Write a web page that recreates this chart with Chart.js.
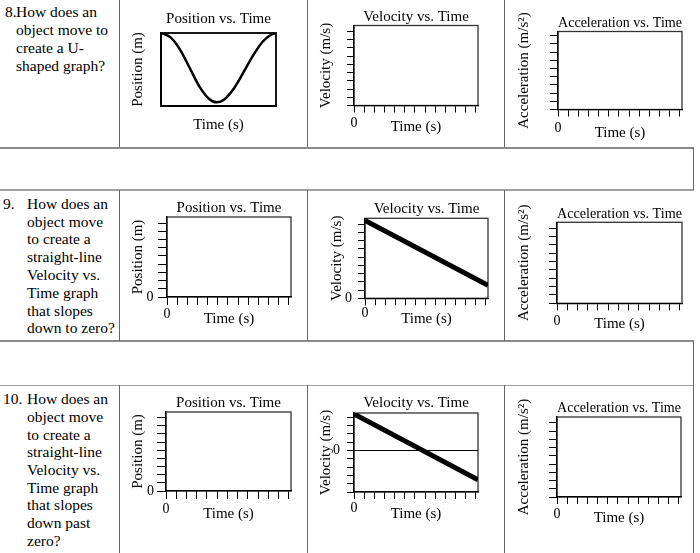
<!DOCTYPE html>
<html><head><meta charset="utf-8">
<script src="https://cdn.jsdelivr.net/npm/chart.js@4.4.1/dist/chart.umd.min.js"></script>
<style>
html,body{margin:0;padding:0;background:#fff;}
#page{position:relative;width:700px;height:553px;overflow:hidden;background:#fff;font-family:'Liberation Serif','Times New Roman',serif;color:#000;}
.ln{position:absolute;}
.q{position:absolute;font-size:15.5px;white-space:nowrap;}
canvas{position:absolute;}
</style></head><body><div id="page"></div>
<script>
// ---------- data ----------
const chartTitles = ['Position vs. Time', 'Velocity vs. Time', 'Acceleration vs. Time'];
const yAxisTitles = ['Position (m)', 'Velocity (m/s)', 'Acceleration (m/s²)'];
const xAxisTitle = 'Time (s)';
const zeroLabel = '0';
// U-shaped position curve (question 8)
const uPosTime  = [0, 1, 2, 3, 4, 5, 5.8, 6.6, 7.6, 8.6, 9.6, 10.6, 11.4, 12];
const uPosValue = [10, 9.4, 7.7, 5.2, 2.7, 1.0, 0.5, 0.9, 2.4, 4.6, 6.9, 8.8, 9.7, 10];
// straight-line velocity sloping down toward zero (question 9)
const slopeZeroTime = [0, 12.2];
const slopeZeroVel  = [9.45, 1.58];
// straight-line velocity sloping down past zero (question 10)
const slopePastTime = [0, 12.2];
const slopePastVel  = [4.38, -3.54];
// questions
const questionNumbers = ['8.', '9.', '10.'];
const questionLines = [
  ['How does an', 'object move to', 'create a U-', 'shaped graph?'],
  ['How does an', 'object move', 'to create a', 'straight-line', 'Velocity vs.', 'Time graph', 'that slopes', 'down to zero?'],
  ['How does an', 'object move', 'to create a', 'straight-line', 'Velocity vs.', 'Time graph', 'that slopes', 'down past', 'zero?']
];

// ---------- layout ----------
const page = document.getElementById('page');
function line(x, y, w, h, c) {
  const d = document.createElement('div');
  d.className = 'ln';
  d.style.cssText = `left:${x}px;top:${y}px;width:${w}px;height:${h}px;background:${c};`;
  page.appendChild(d);
}
// horizontal rules
line(0, 146.5, 694, 2, '#8a8a8a');
line(0, 189, 694, 1.5, '#a0a0a0');
line(0, 340, 694, 2, '#8a8a8a');
line(0, 384.5, 694, 1.5, '#a0a0a0');
// vertical rules (inside question rows)
[[0, 147], [190, 341], [385, 553]].forEach(([y0, y1]) => {
  [118.5, 306.5, 503.5].forEach(x => line(x, y0, 1.5, y1 - y0, '#666'));
});
line(692.5, 147, 1.5, 43, '#666');
line(692.5, 341, 1.5, 212, '#666');

// question text
const qLayout = [
  {numX: 5, textX: 16, top: 3.1, lh: 18},
  {numX: 3, textX: 27, top: 194.9, lh: 17.8},
  {numX: 3, textX: 27, top: 390.2, lh: 17.7}
];
qLayout.forEach((q, i) => {
  const n = document.createElement('div');
  n.className = 'q';
  n.style.cssText = `left:${q.numX}px;top:${q.top}px;line-height:${q.lh}px;`;
  n.textContent = questionNumbers[i];
  page.appendChild(n);
  const t = document.createElement('div');
  t.className = 'q';
  t.style.cssText = `left:${q.textX}px;top:${q.top}px;line-height:${q.lh}px;`;
  t.innerHTML = questionLines[i].join('<br>');
  page.appendChild(t);
});

// ---------- charts ----------
Chart.defaults.font.family = "'Liberation Serif', 'Times New Roman', serif";
Chart.defaults.color = '#000';

const framePlugin = {
  id: 'frame',
  beforeDraw(chart, args, opts) {
    const {ctx, chartArea: a} = chart;
    ctx.save();
    ctx.strokeStyle = opts.color || '#333';
    ctx.lineWidth = opts.width || 1.3;
    ctx.strokeRect(a.left, a.top, a.right - a.left, a.bottom - a.top);
    ctx.restore();
  }
};

function pts(xs, ys) { return xs.map((x, i) => ({x, y: ys[i]})); }

const specs = [
  {t: 0, box: [161, 33, 276, 106], titleY: 19, yTitleX: 138, xTitleY: 124.5, xMax: 12, yMin: 0, yMax: 10, ticks: false,
   series: pts(uPosTime, uPosValue), lw: 2.5, smooth: true, frameColor: '#000', frameW: 1.8},
  {t: 1, box: [354, 25, 478, 105], titleY: 16.5, yTitleX: 326, xTitleY: 126.5, xMax: 12.2, yMin: 0, yMax: 9.73, ticks: true, xTl: 7, xPad: 2.6, yTl: 7},
  {t: 2, box: [558, 31, 682, 109], titleY: 22.5, yTitleX: 524, xTitleY: 132, xMax: 12.2, yMin: 0, yMax: 9.5, ticks: true, xTl: 7, xPad: 3, yTl: 8},
  {t: 0, box: [167, 217, 291, 297], titleY: 208, yTitleX: 138, xTitleY: 319, xMax: 12.2, yMin: 0, yMax: 9.75, ticks: true, xTl: 8, xPad: 1.3, yTl: 9, yZero: true, yPad: 4.5},
  {t: 1, box: [365, 218, 488, 298], titleY: 208.7, yTitleX: 337, xTitleY: 319, xMax: 12.2, yMin: 0, yMax: 9.7, ticks: true, xTl: 7, xPad: 0, yTl: 7, yZero: true, yPad: 6,
   series: pts(slopeZeroTime, slopeZeroVel), lw: 5},
  {t: 2, box: [557, 222, 682, 303], titleY: 213.7, yTitleX: 524, xTitleY: 323.3, xMax: 12.2, yMin: 0, yMax: 9.7, ticks: true, xTl: 7, xPad: 2.4, yTl: 8},
  {t: 0, box: [166, 412, 291, 491], titleY: 403, yTitleX: 138, xTitleY: 514, xMax: 12.2, yMin: 0, yMax: 9.7, ticks: true, xTl: 8, xPad: 2.1, yTl: 9, yZero: true, yPad: 3},
  {t: 1, box: [354, 413, 478, 492], titleY: 403, yTitleX: 326, xTitleY: 514, xMax: 12.2, yMin: -5, yMax: 4.5, ticks: true, xTl: 7, xPad: 0.9, yTl: 7, yZero: true, yPad: 7, zeroLine: true,
   series: pts(slopePastTime, slopePastVel), lw: 5},
  {t: 2, box: [557, 417, 681, 497], titleY: 408, yTitleX: 524, xTitleY: 518.3, xMax: 12.2, yMin: 0, yMax: 9.7, ticks: true, xTl: 7, xPad: 1.6, yTl: 8}
];

specs.forEach(s => {
  const cl = s.yTitleX - 12, ct = s.titleY - 12, cr = s.box[2] + 5, cb = s.xTitleY + 12;
  const w = Math.round(cr - cl), h = Math.round(cb - ct);
  const cv = document.createElement('canvas');
  cv.width = w; cv.height = h;
  cv.style.cssText = `left:${cl}px;top:${ct}px;width:${w}px;height:${h}px;`;
  page.appendChild(cv);
  const Wy = s.box[0] - cl;
  const Hx = (ct + h) - s.box[3];
  const rightPad = (cl + w) - s.box[2];
  const datasets = s.series ? [{
    data: s.series, borderColor: '#000', borderWidth: s.lw, pointRadius: 0,
    cubicInterpolationMode: s.smooth ? 'monotone' : 'default', tension: 0, fill: false, borderCapStyle: 'butt'
  }] : [];
  new Chart(cv, {
    type: 'line',
    data: {datasets},
    options: {
      responsive: false, animation: false, devicePixelRatio: 1,
      layout: {padding: {left: 0, top: 0, right: rightPad, bottom: 0}},
      plugins: {
        legend: {display: false}, tooltip: {enabled: false},
        title: {display: true, text: chartTitles[s.t], fullSize: false, color: '#000',
          font: {size: 15, weight: 'normal', lineHeight: 1},
          padding: {top: 4.5, bottom: s.box[1] - s.titleY - 7.5}},
        frame: {color: s.frameColor || '#333', width: s.frameW || 1.3}
      },
      scales: {
        x: {
          type: 'linear', min: 0, max: s.xMax,
          afterFit(sc) { sc.height = Hx; },
          ticks: {display: s.ticks, stepSize: 1, autoSkip: false, maxRotation: 0, minRotation: 0, includeBounds: false,
            padding: s.xPad || 0, font: {size: 14}, color: '#000',
            callback: v => v === 0 ? zeroLabel : ''},
          grid: {display: s.ticks, drawOnChartArea: false, drawTicks: true, tickLength: s.xTl || 0, tickColor: '#000', tickWidth: 1},
          border: {display: true, color: '#000', width: s.frameW || 1.3},
          title: {display: true, text: xAxisTitle, color: '#000', font: {size: 15, lineHeight: 1}, padding: {top: 0, bottom: 4.5}}
        },
        y: {
          type: 'linear', min: s.yMin, max: s.yMax,
          afterFit(sc) { sc.width = Wy; },
          ticks: {display: s.ticks, stepSize: 1, autoSkip: false, includeBounds: false,
            padding: s.yPad || 0, font: {size: 14}, color: '#000',
            callback: v => (s.yZero && v === 0) ? zeroLabel : ''},
          grid: {display: s.ticks, drawOnChartArea: !!s.zeroLine, drawTicks: true, tickLength: s.yTl || 0, tickColor: '#000', tickWidth: 1,
            color: c => (s.zeroLine && c.tick && c.tick.value === 0) ? '#000' : 'rgba(0,0,0,0)', lineWidth: 1},
          border: {display: true, color: '#000', width: s.frameW || 1.3},
          title: {display: true, text: yAxisTitles[s.t], color: '#000', font: {size: 15, lineHeight: 1}, padding: {top: 4.5, bottom: 0}}
        }
      }
    },
    plugins: [framePlugin]
  });
});
</script>
</body></html>
